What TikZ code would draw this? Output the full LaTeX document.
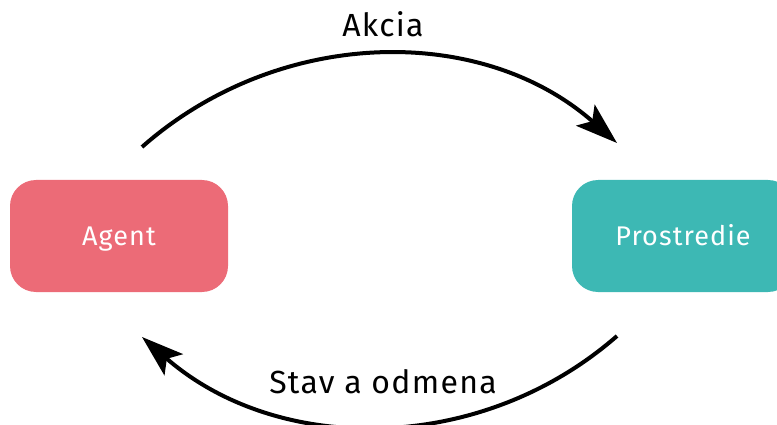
\documentclass[tikz,border=0pt]{standalone}
\usepackage{fontspec}
\setmainfont{Fira Sans}[LetterSpace=4]
\usetikzlibrary{arrows.meta}
\definecolor{agentpink}{HTML}{EC6B77}
\definecolor{envteal}{HTML}{3DB8B4}
\begin{document}
\begin{tikzpicture}[x=1pt,y=-1pt,
  block/.style={rounded corners=26pt, minimum height=112pt, text=white,
    font=\fontsize{27}{32}\selectfont, inner sep=0pt,
    text height=18pt, text depth=0pt},
  flow/.style={line width=4pt, -{Stealth[length=42pt, width=28pt, inset=9pt]}},
  caption/.style={font=\fontsize{32}{38}\selectfont, inner sep=0pt}]
  \useasboundingbox (0,0) rectangle (777,425);
  \begin{scope}
    \clip (0,0) rectangle (777,425);
    % the two parties of the loop
    \node[block, fill=agentpink, minimum width=218pt] (agent) at (119,236) {Agent};
    \node[block, fill=envteal, minimum width=222pt] (env) at (683,236) {Prostredie};
    % free ends of the two arcs
    \coordinate (topstart) at (142,147);
    \coordinate (topend) at (617,143);
    \coordinate (botstart) at (617,336);
    \coordinate (botend) at (142,337);
    \draw[flow] (topstart) .. controls (278,27) and (481,23) .. (topend);
    \draw[flow] (botstart) .. controls (481,455) and (278,456) .. (botend);
    % arc labels
    \node[caption, anchor=base] (act) at (383,37) {Akcia};
    \node[caption, anchor=base] (rew) at (383,393) {Stav a odmena};
  \end{scope}
\end{tikzpicture}
\end{document}
